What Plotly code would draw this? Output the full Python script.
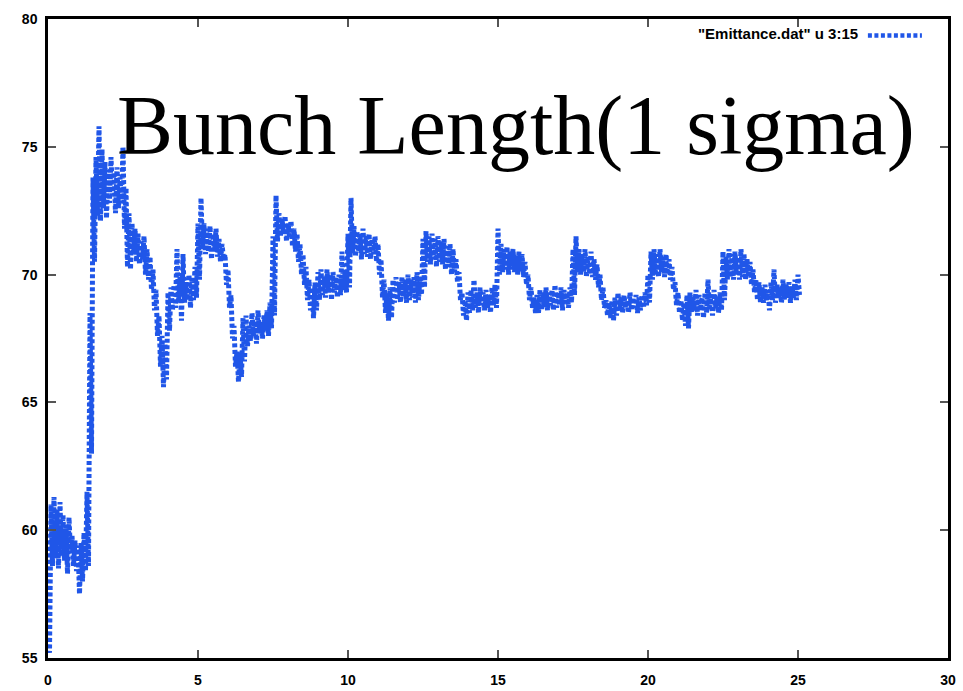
import numpy as np
import plotly.graph_objects as go

# Bunch length (1 sigma) versus time, sampled every 0.1 time units.
# Each sample carries the upper and lower edge of the jittering trace.
TIME_STEP = 0.1

sigma_hi = [
    59.6, 61.0, 61.3, 60.8, 61.1, 60.6, 60.2, 60.5, 59.8, 59.6,
    59.4, 59.5, 59.9, 61.5, 68.5, 73.8, 74.6, 75.8, 74.9, 74.4,
    74.1, 74.6, 74.0, 74.2, 73.8, 75.0, 73.4, 72.4, 72.0, 71.8,
    71.6, 71.3, 71.5, 71.0, 70.7, 70.2, 69.4, 68.4, 67.6, 67.3,
    69.3, 69.5, 69.6, 71.0, 69.9, 70.8, 69.7, 70.0, 69.9, 70.3,
    72.0, 73.0, 72.0, 71.8, 71.9, 71.6, 71.8, 71.4, 71.2, 70.8,
    70.2, 69.2, 68.0, 67.0, 66.9, 68.3, 68.4, 68.0, 68.5, 68.2,
    68.6, 68.1, 68.4, 68.6, 68.9, 71.5, 73.1, 72.4, 72.2, 72.3,
    72.0, 72.1, 71.8, 71.6, 71.2, 70.8, 70.3, 69.8, 69.5, 69.7,
    70.1, 70.2, 69.9, 70.2, 70.0, 70.1, 69.9, 70.0, 70.9, 70.1,
    71.6, 73.0, 71.9, 71.7, 71.6, 71.8, 71.5, 71.6, 71.4, 71.5,
    71.2, 70.6, 69.8, 69.3, 69.5, 69.8, 69.9, 69.7, 69.9, 69.8,
    70.0, 69.8, 69.9, 70.1, 69.9, 71.4, 71.7, 71.5, 71.6, 71.4,
    71.5, 71.3, 71.4, 71.1, 71.2, 71.0, 70.6, 70.1, 69.3, 69.0,
    69.3, 69.4, 69.8, 69.3, 69.5, 69.3, 69.4, 69.2, 69.5, 69.6,
    71.8, 71.2, 71.0, 71.1, 70.9, 71.0, 70.8, 70.9, 70.8, 70.5,
    70.0, 69.5, 69.1, 69.2, 69.4, 69.3, 69.5, 69.3, 69.4, 69.6,
    69.3, 69.5, 69.4, 69.3, 69.5, 71.0, 71.5, 71.0, 70.8, 71.0,
    70.7, 70.9, 70.6, 70.4, 70.0, 69.5, 69.0, 68.9, 69.0, 69.1,
    69.3, 69.1, 69.2, 69.0, 69.3, 69.1, 69.2, 69.1, 69.2, 69.3,
    70.0, 70.9, 71.0, 70.8, 71.0, 70.7, 70.8, 70.6, 70.3, 69.7,
    69.3, 69.0, 68.9, 69.2, 69.3, 69.1, 69.4, 69.2, 69.1, 69.3,
    69.8, 69.2, 69.4, 69.1, 69.3, 70.9, 70.7, 71.0, 70.8, 70.9,
    70.7, 71.0, 70.8, 70.6, 70.5, 70.2, 69.8, 69.7, 69.5, 69.6,
    69.4, 69.7, 70.2, 69.6, 69.5, 69.8, 69.6, 69.7, 69.5, 69.8,
    70.0,
]

sigma_lo = [
    55.2, 58.6, 58.9, 58.5, 59.0, 58.8, 58.3, 59.1, 58.6, 58.4,
    57.5, 58.0, 58.4, 58.6, 63.0, 70.5, 72.3, 72.1, 72.6, 72.2,
    72.8, 73.1, 72.4, 72.6, 72.8, 71.8, 70.3, 70.2, 70.8, 70.5,
    70.4, 70.6, 70.0, 69.8, 69.4, 68.6, 67.6, 66.4, 65.6, 65.9,
    67.8, 68.6, 68.7, 68.9, 68.2, 68.9, 69.0, 68.7, 69.0, 69.1,
    69.8, 71.0, 70.8, 70.9, 70.6, 70.9, 70.7, 70.5, 70.6, 69.6,
    68.7, 67.5, 66.4, 65.8, 66.0, 66.6, 67.2, 67.4, 67.6, 67.3,
    67.7, 67.5, 67.8, 67.6, 67.9, 68.4, 71.3, 71.5, 71.6, 71.3,
    71.5, 71.1, 70.9, 70.5, 70.0, 69.6, 69.0, 68.6, 68.3, 68.6,
    69.0, 69.2, 69.1, 69.3, 69.0, 69.3, 69.1, 69.2, 69.4, 69.3,
    69.5, 70.8, 70.7, 70.9, 70.6, 70.8, 70.7, 70.6, 70.8, 70.5,
    70.0, 69.1, 68.5, 68.2, 68.3, 68.9, 69.0, 68.9, 69.1, 68.9,
    69.0, 69.1, 68.9, 69.0, 69.2, 69.5, 70.5, 70.4, 70.6, 70.3,
    70.5, 70.4, 70.2, 70.3, 70.0, 70.1, 69.7, 69.0, 68.4, 68.2,
    68.5, 68.6, 68.7, 68.5, 68.8, 68.6, 68.7, 68.5, 68.8, 68.7,
    70.0, 70.1, 70.2, 70.0, 70.2, 70.1, 70.0, 70.1, 69.9, 69.6,
    69.0, 68.7, 68.5, 68.5, 68.6, 68.7, 68.6, 68.8, 68.6, 68.7,
    68.8, 68.6, 68.9, 68.7, 68.9, 69.2, 70.1, 70.0, 70.1, 69.9,
    70.0, 69.9, 69.8, 69.5, 69.0, 68.7, 68.4, 68.3, 68.2, 68.4,
    68.6, 68.5, 68.7, 68.5, 68.6, 68.7, 68.5, 68.6, 68.7, 68.8,
    68.9, 69.8, 70.0, 69.9, 70.1, 69.9, 70.0, 69.8, 69.4, 68.8,
    68.5, 68.2, 68.0, 67.9, 68.5, 68.6, 68.4, 68.6, 68.3, 68.5,
    68.6, 68.4, 68.7, 68.5, 68.6, 69.0, 69.8, 69.9, 69.8, 70.0,
    69.8, 69.9, 69.8, 69.9, 69.6, 69.3, 69.0, 68.9, 68.9, 69.0,
    68.6, 69.0, 68.9, 69.1, 68.9, 69.0, 69.1, 68.9, 69.1, 69.0,
    69.2,
]

x_ticks = [0, 5, 10, 15, 20, 25, 30]
y_ticks = [55, 60, 65, 70, 75, 80]

series_name = '"Emittance.dat" u 3:15'
title_text = "Bunch Length(1 sigma)"

# Build the jitter path: upper edge, then lower edge half a step later.
t = np.round(np.arange(len(sigma_hi)) * TIME_STEP, 2)
xs = np.empty(2 * len(t))
ys = np.empty(2 * len(t))
xs[0::2] = t
xs[1::2] = t + TIME_STEP / 2
ys[0::2] = sigma_hi
ys[1::2] = sigma_lo

BLUE = "rgb(32,86,232)"
DOTS = "4px,2.5px"

fig = go.Figure()
fig.add_trace(
    go.Scatter(
        x=xs,
        y=ys,
        mode="lines",
        line=dict(color=BLUE, width=5, dash=DOTS),
        showlegend=False,
    )
)

axis_common = dict(
    showgrid=False,
    zeroline=False,
    showline=True,
    linecolor="black",
    linewidth=2.5,
    mirror="ticks",
    ticks="inside",
    ticklen=8,
    tickwidth=2,
    tickcolor="#555555",
    automargin=False,
    tickfont=dict(family="Liberation Sans", size=14, color="black", weight="bold"),
)

fig.update_xaxes(range=[0, 30], tickvals=x_ticks, ticklabelstandoff=7, **axis_common)
fig.update_yaxes(range=[55, 80], tickvals=y_ticks, ticklabelstandoff=5, **axis_common)

fig.update_layout(
    width=963,
    height=691,
    margin=dict(l=48, r=15, t=19, b=33),
    paper_bgcolor="white",
    plot_bgcolor="white",
    annotations=[
        # key text for the data series
        dict(
            text=series_name,
            xref="paper",
            yref="paper",
            x=0.9018,
            y=0.978,
            xanchor="right",
            yanchor="middle",
            showarrow=False,
            font=dict(family="Liberation Sans", size=15, color="black", weight="bold"),
        ),
        # large overlay title
        dict(
            text=title_text,
            xref="paper",
            yref="paper",
            x=0.52,
            y=0.833,
            xanchor="center",
            yanchor="middle",
            showarrow=False,
            font=dict(family="Liberation Serif", size=84, color="black"),
        ),
    ],
    shapes=[
        # key sample for the data series
        dict(
            type="line",
            xref="paper",
            yref="paper",
            x0=0.911,
            x1=0.971,
            y0=0.974,
            y1=0.974,
            line=dict(color=BLUE, width=4.5, dash=DOTS),
        )
    ],
)

fig.write_html("out.html")
